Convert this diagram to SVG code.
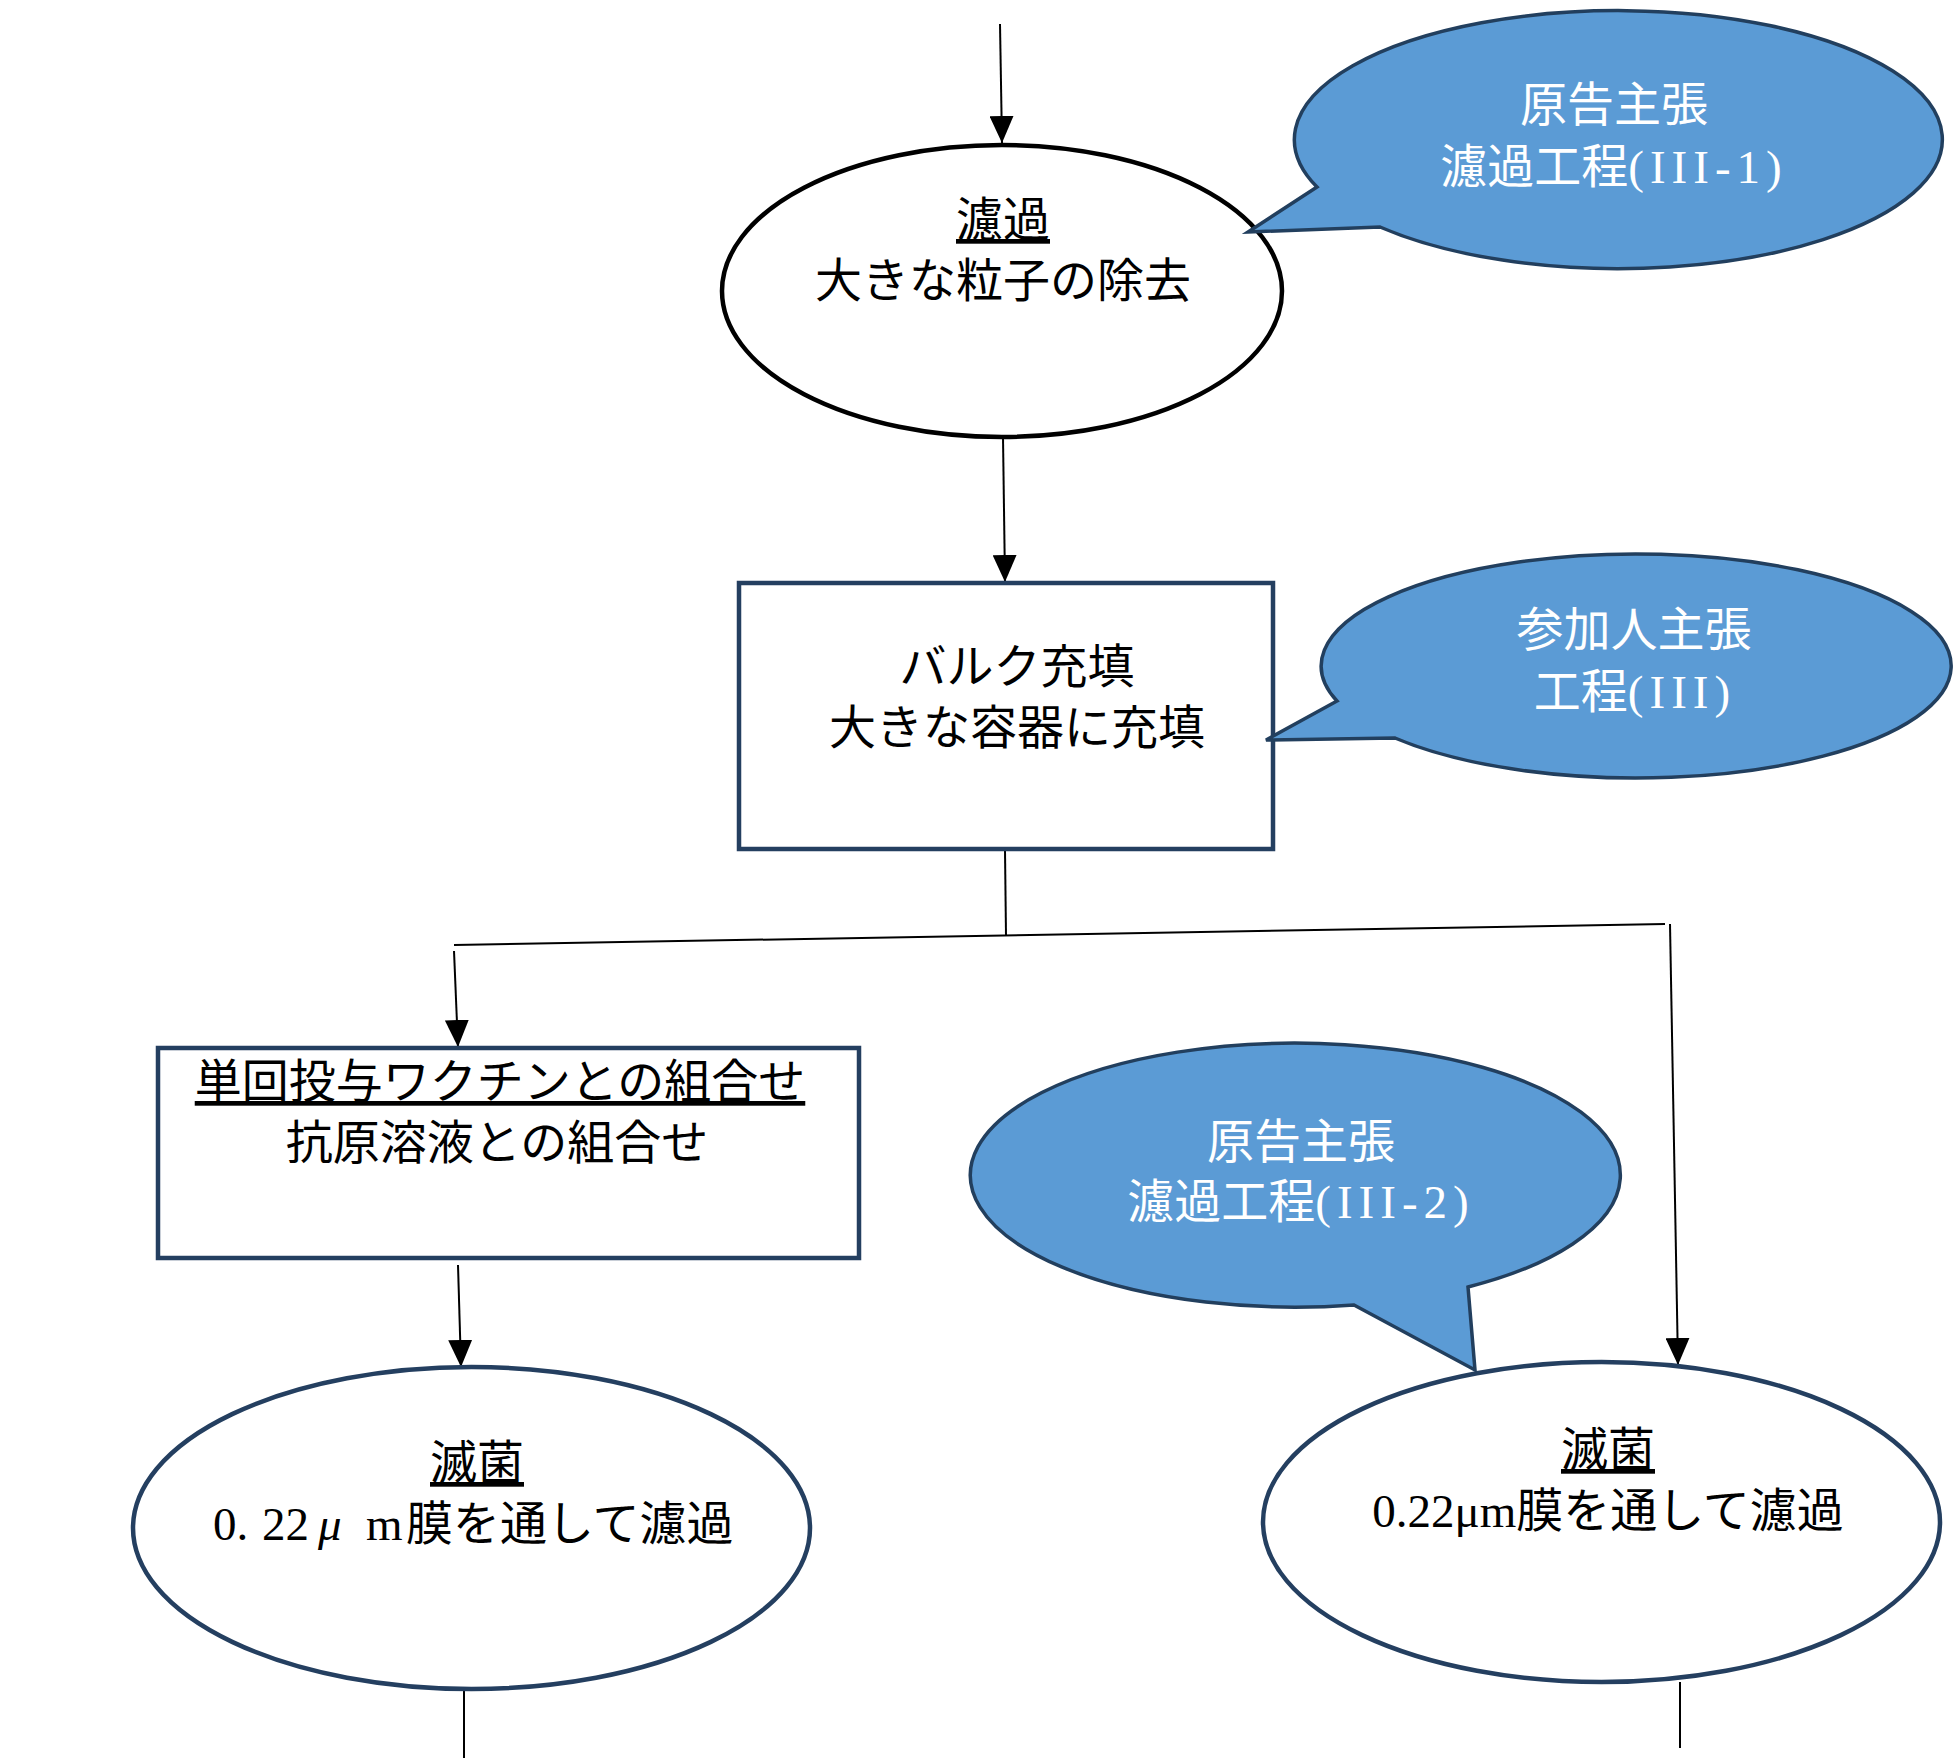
<svg xmlns="http://www.w3.org/2000/svg" width="1953" height="1763" viewBox="0 0 1953 1763">
<defs>
<style>
.t{font-family:"Liberation Serif","Noto Sans CJK JP",serif;font-size:47px;fill:#000;text-anchor:middle}
.w{fill:#fff}
.u{text-decoration:underline}
.ls{letter-spacing:6px}
.node{fill:#fff;stroke:#243F60;stroke-width:4.5}
.blk{fill:#fff;stroke:#000;stroke-width:4.5}
.call{fill:#5B9BD5;stroke:#223F5E;stroke-width:3.5;stroke-linejoin:miter}
.c{fill:none;stroke:#000;stroke-width:2}
</style>
<marker id="arr" viewBox="0 0 10 10" refX="10" refY="5" markerWidth="27" markerHeight="24" markerUnits="userSpaceOnUse" orient="auto" preserveAspectRatio="none">
<path d="M0,0 L10,5 L0,10 z" fill="#000"/>
</marker>
</defs>
<rect width="1953" height="1763" fill="#fff"/>

<g id="connectors">
<line class="c" x1="1000" y1="24" x2="1002" y2="143" marker-end="url(#arr)"/>
<line class="c" x1="1003" y1="437" x2="1005" y2="582" marker-end="url(#arr)"/>
<line class="c" x1="1005" y1="850" x2="1006" y2="936"/>
<line class="c" x1="454" y1="945" x2="1665" y2="924"/>
<line class="c" x1="454" y1="951" x2="458" y2="1047" marker-end="url(#arr)"/>
<line class="c" x1="1670" y1="924" x2="1678" y2="1365" marker-end="url(#arr)"/>
<line class="c" x1="458" y1="1265" x2="461" y2="1367" marker-end="url(#arr)"/>
<line class="c" x1="464" y1="1690" x2="464" y2="1758"/>
<line class="c" x1="1680" y1="1682" x2="1680" y2="1748"/>
</g>

<g id="node-filtration">
<ellipse class="blk" cx="1002" cy="291" rx="280" ry="146"/>
<text class="t u" x="1003" y="236">濾過</text>
<text class="t" x="1003" y="297">大きな粒子の除去</text>
</g>

<g id="node-bulk">
<rect class="node" x="739" y="583" width="534" height="266"/>
<text class="t" x="1017" y="683">バルク充填</text>
<text class="t" x="1017" y="744">大きな容器に充填</text>
</g>

<g id="node-combination">
<rect class="node" x="158" y="1048" width="701" height="210"/>
<text class="t u" x="500" y="1098">単回投与ワクチンとの組合せ</text>
<text class="t" x="497" y="1159">抗原溶液との組合せ</text>
</g>

<g id="node-steril-left">
<ellipse class="node" cx="471.5" cy="1528" rx="338.5" ry="161"/>
<text class="t u" x="477" y="1479">滅菌</text>
<text class="t" y="1540" style="text-anchor:start"><tspan x="213">0.</tspan><tspan x="262">22</tspan><tspan x="318" style="font-style:italic">μ</tspan><tspan x="366">m</tspan><tspan x="406">膜を通して濾過</tspan></text>
</g>

<g id="node-steril-right">
<ellipse class="node" cx="1601.5" cy="1522" rx="338.5" ry="160"/>
<text class="t u" x="1608" y="1466">滅菌</text>
<text class="t" x="1608" y="1527">0.22μm膜を通して濾過</text>
</g>

<g id="callout-1">
<path class="call" d="M1317 187 L1248 232 L1380 227 A324 129 0 1 0 1317 187 Z"/>
<text class="t w" x="1614" y="121">原告主張</text>
<text class="t w" x="1614" y="183">濾過工程<tspan class="ls">(III-1)</tspan></text>
</g>

<g id="callout-2">
<path class="call" d="M1337 701 L1266 740 L1395 738 A315 112 0 1 0 1337 701 Z"/>
<text class="t w" x="1634" y="646">参加人主張</text>
<text class="t w" x="1635" y="708">工程<tspan class="ls">(III)</tspan></text>
</g>

<g id="callout-3">
<path class="call" d="M1354 1305 L1475 1370 L1468 1287 A325 132 0 1 0 1354 1305 Z"/>
<text class="t w" x="1301" y="1158">原告主張</text>
<text class="t w" x="1301" y="1218">濾過工程<tspan class="ls">(III-2)</tspan></text>
</g>
</svg>
